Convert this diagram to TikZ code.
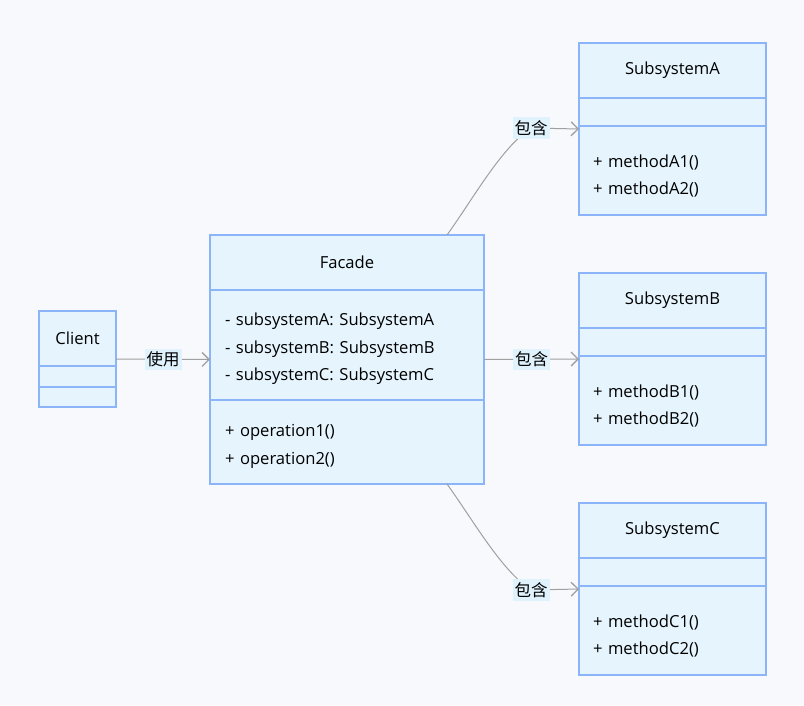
\documentclass[tikz,border=0pt]{standalone}
\usepackage{fontspec}
\setmainfont{Open Sans}
\newfontfamily\cjkfont{Noto Sans CJK SC}
\usepackage{xcolor}
\definecolor{page-bg}{HTML}{F8F9FC}
\definecolor{class-fill}{HTML}{E5F4FD}
\definecolor{class-border}{HTML}{8CB4F8}
\definecolor{edge-gray}{HTML}{A0A0A0}
\definecolor{label-fill}{HTML}{E0F2FC}
\usetikzlibrary{
  arrows.meta,
  positioning,
  fit,
  calc
}
\newcommand{\toppad}{\rule{0pt}{23.5pt}}
\newcommand{\midpad}{\rule{0pt}{20.5pt}}

\begin{document}
\begin{tikzpicture}[
    x=1pt, y=-1pt,
    part/.style={
      rectangle,
      draw=class-border,
      fill=class-fill,
      line width=1.2pt,
      outer sep=0pt,
      inner ysep=0pt,
      font=\fontsize{16.6}{27.5}\selectfont,
      text=black,
      align=left
    },
    titlepart/.style={
      anchor=north west,
      align=center,
      minimum height=55pt
    },
    clientpart/.style={part, inner xsep=8pt, text width=61pt},
    facadepart/.style={part, inner xsep=15pt, text width=244pt},
    subpart/.style={part, inner xsep=14pt, text width=159pt},
    wholebox/.style={inner sep=0pt, outer sep=0pt},
    rel/.style={
      -{Straight Barb[length=7pt, width=14pt, line width=1.3pt]},
      line width=1pt,
      color=edge-gray
    },
    edgelabel/.style={
      fill=label-fill,
      inner xsep=2pt,
      inner ysep=3pt,
      font=\cjkfont\fontsize{16.5}{16.5}\selectfont,
      text=black
    }
  ]
    \fill[page-bg] (0,0) rectangle (804,705);

    % ---- Client ----
    \node[clientpart, titlepart] (client) at (39,311) {Client};
    \node[clientpart, minimum height=21pt, below=0pt of client] (client-attr) {};
    \node[clientpart, minimum height=20pt, below=0pt of client-attr] (client-ops) {};
    \node[wholebox, fit=(client)(client-ops)] (client-box) {};

    % ---- Facade ----
    \node[facadepart, titlepart] (facade) at (210,235) {Facade};
    \node[facadepart, minimum height=110pt, below=0pt of facade] (facade-attr)
      {\midpad- subsystemA: SubsystemA\\- subsystemB: SubsystemB\\- subsystemC: SubsystemC};
    \node[facadepart, minimum height=84pt, below=0pt of facade-attr] (facade-ops)
      {\midpad+ operation1()\\+ operation2()};
    \node[wholebox, fit=(facade)(facade-ops)] (facade-box) {};

    % ---- Subsystem A ----
    \node[subpart, titlepart] (subA) at (579,43) {SubsystemA};
    \node[subpart, minimum height=28pt, below=0pt of subA] (subA-attr) {};
    \node[subpart, minimum height=89pt, below=0pt of subA-attr] (subA-ops)
      {\toppad+ methodA1()\\+ methodA2()};
    \node[wholebox, fit=(subA)(subA-ops)] (subA-box) {};

    % ---- Subsystem B ----
    \node[subpart, titlepart] (subB) at (579,273) {SubsystemB};
    \node[subpart, minimum height=28pt, below=0pt of subB] (subB-attr) {};
    \node[subpart, minimum height=89pt, below=0pt of subB-attr] (subB-ops)
      {\toppad+ methodB1()\\+ methodB2()};
    \node[wholebox, fit=(subB)(subB-ops)] (subB-box) {};

    % ---- Subsystem C ----
    \node[subpart, titlepart] (subC) at (579,503) {SubsystemC};
    \node[subpart, minimum height=28pt, below=0pt of subC] (subC-attr) {};
    \node[subpart, minimum height=89pt, below=0pt of subC-attr] (subC-ops)
      {\toppad+ methodC1()\\+ methodC2()};
    \node[wholebox, fit=(subC)(subC-ops)] (subC-box) {};

    % ---- Label points on the curved links ----
    \coordinate (lblA) at (531,128);
    \coordinate (lblC) at (531,590);

    % ---- Links ----
    \draw[rel] (client-box.east) -- (facade-box.west)
      node[edgelabel, midway] {使用};
    \draw[rel] (facade-box.east) -- (subB-box.west)
      node[edgelabel, midway] {包含};
    \draw[rel] ([xshift=-37pt]facade-box.north east)
      .. controls +(26,-36) and +(-30,20) .. (lblA)
      node[edgelabel] {包含} -- (subA-box.west);
    \draw[rel] ([xshift=-37pt]facade-box.south east)
      .. controls +(26,36) and +(-30,-20) .. (lblC)
      node[edgelabel] {包含} -- (subC-box.west);
  \end{tikzpicture}
\end{document}
